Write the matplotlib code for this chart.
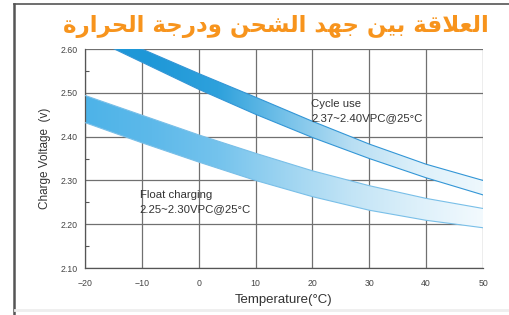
import unicodedata
import numpy as np
import matplotlib
matplotlib.use("Agg")
import matplotlib.pyplot as plt
from matplotlib.colors import LinearSegmentedColormap
from matplotlib.lines import Line2D

# data
temps = [-20, -10, 0, 10, 20, 30, 40, 50]
cycle_upper = [2.660, 2.600, 2.544, 2.490, 2.435, 2.383, 2.337, 2.300]
cycle_lower = [2.632, 2.570, 2.508, 2.451, 2.398, 2.350, 2.306, 2.267]
float_upper = [2.494, 2.449, 2.404, 2.362, 2.322, 2.288, 2.259, 2.236]
float_lower = [2.432, 2.386, 2.342, 2.300, 2.263, 2.232, 2.209, 2.192]
x_ticks = [-20, -10, 0, 10, 20, 30, 40, 50]
y_ticks = [2.10, 2.20, 2.30, 2.40, 2.50, 2.60]

title = "العلاقة بين جهد الشحن ودرجة الحرارة"

plt.rcParams['font.family'] = ['Liberation Sans', 'DejaVu Sans']


def shape_arabic(text):
    # matplotlib has no arabic shaping, so pick presentation forms by hand
    right_only = set('اأإآدذرزوةى')
    forms = {(0, 0): 'ISOLATED', (1, 0): 'FINAL', (0, 1): 'INITIAL', (1, 1): 'MEDIAL'}
    chars = list(text)
    out = []
    i = 0
    while i < len(chars):
        c = chars[i]
        if c == ' ':
            out.append(c)
            i += 1
            continue
        prev = chars[i - 1] if i > 0 else ' '
        joins_prev = prev != ' ' and prev not in right_only
        nxt = chars[i + 1] if i + 1 < len(chars) else ' '
        if c == 'ل' and nxt == 'ا':
            form = 'FINAL' if joins_prev else 'ISOLATED'
            out.append(unicodedata.lookup('ARABIC LIGATURE LAM WITH ALEF ' + form + ' FORM'))
            i += 2
            continue
        joins_next = nxt != ' ' and c not in right_only
        name = unicodedata.name(c)
        try:
            out.append(unicodedata.lookup(name + ' ' + forms[(joins_prev, joins_next)] + ' FORM'))
        except KeyError:
            out.append(unicodedata.lookup(name + ' ISOLATED FORM'))
        i += 1
    return ''.join(out)[::-1]


fig = plt.figure(figsize=(5.1, 3.15), dpi=100)
ax = fig.add_axes([0.1667, 0.149, 0.7804, 0.6954])
ax.set_xlim(-20, 50)
ax.set_ylim(2.10, 2.60)

# grid
for t in x_ticks:
    ax.axvline(t, color='#707070', lw=0.9, zorder=1)
for v in y_ticks:
    ax.axhline(v, color='#707070', lw=0.9, zorder=1)


def gradient_band(lower, upper, colors, edge):
    poly = ax.fill_between(temps, lower, upper, facecolor='none', edgecolor='none')
    cmap = LinearSegmentedColormap.from_list('band', colors)
    grad = np.linspace(0, 1, 256).reshape(1, -1)
    im = ax.imshow(grad, cmap=cmap, aspect='auto', extent=[-20, 50, 2.10, 2.70],
                   origin='lower', zorder=2, interpolation='bilinear')
    im.set_clip_path(poly.get_paths()[0], transform=ax.transData)
    ax.plot(temps, upper, color=edge, lw=0.8, zorder=3)
    ax.plot(temps, lower, color=edge, lw=0.8, zorder=3)


gradient_band(cycle_lower, cycle_upper,
              ['#1c95d6', '#1f98d8', '#2ea1dc', '#74c1e9', '#b7def3', '#ddf0fa', '#eef8fd'],
              '#3396d6')
gradient_band(float_lower, float_upper,
              ['#4db3e8', '#5db9ea', '#74c3ed', '#9dd4f1', '#c2e4f6', '#ddf0fa', '#f3fafe'],
              '#79bfe8')
ax.set_ylim(2.10, 2.60)
ax.set_xlim(-20, 50)

note = dict(fontsize=8.2, color='#333333', va='center')
ax.text(19.8, 2.474, 'Cycle use', **note)
ax.text(19.8, 2.443, '2.37~2.40VPC@25°C', **note)
ax.text(-10.4, 2.266, 'Float charging', **note)
ax.text(-10.4, 2.235, '2.25~2.30VPC@25°C', **note)

for s in ['top', 'right']:
    ax.spines[s].set_visible(False)
for s in ['left', 'bottom']:
    ax.spines[s].set_color('#555555')
    ax.spines[s].set_linewidth(0.9)

ax.set_xticks(x_ticks)
ax.set_xticklabels(['−20', '−10', '0', '10', '20', '30', '40', '50'])
ax.set_yticks(y_ticks)
ax.set_yticklabels(['%.2f' % v for v in y_ticks])
ax.set_yticks([2.15, 2.25, 2.35, 2.45, 2.55], minor=True)
ax.tick_params(axis='x', length=0, pad=8, labelsize=6.3, labelcolor='#444444')
ax.tick_params(axis='y', which='major', length=0, pad=5, labelsize=6.3, labelcolor='#444444')
ax.tick_params(axis='y', which='minor', direction='in', length=3, color='#555555', width=0.8)

ax.set_xlabel('Temperature(°C)', fontsize=9.5, color='#333333', labelpad=4)
ax.set_ylabel('Charge Voltage  (v)', fontsize=8.5, color='#333333', labelpad=7)

fig.text(0.54, 0.915, shape_arabic(title), fontsize=16.5, fontweight='bold',
         color='#f7941d', ha='center', va='center', family=['DejaVu Sans'])

# outer frame
fig.add_artist(Line2D([0.028, 0.028], [0.0, 0.987], color='#555555', lw=1.8))
fig.add_artist(Line2D([0.028, 1.0], [0.987, 0.987], color='#555555', lw=1.2))
fig.add_artist(Line2D([0.03, 1.0], [0.017, 0.017], color='#eeeeee', lw=2))

fig.savefig('out.png', dpi=100)
